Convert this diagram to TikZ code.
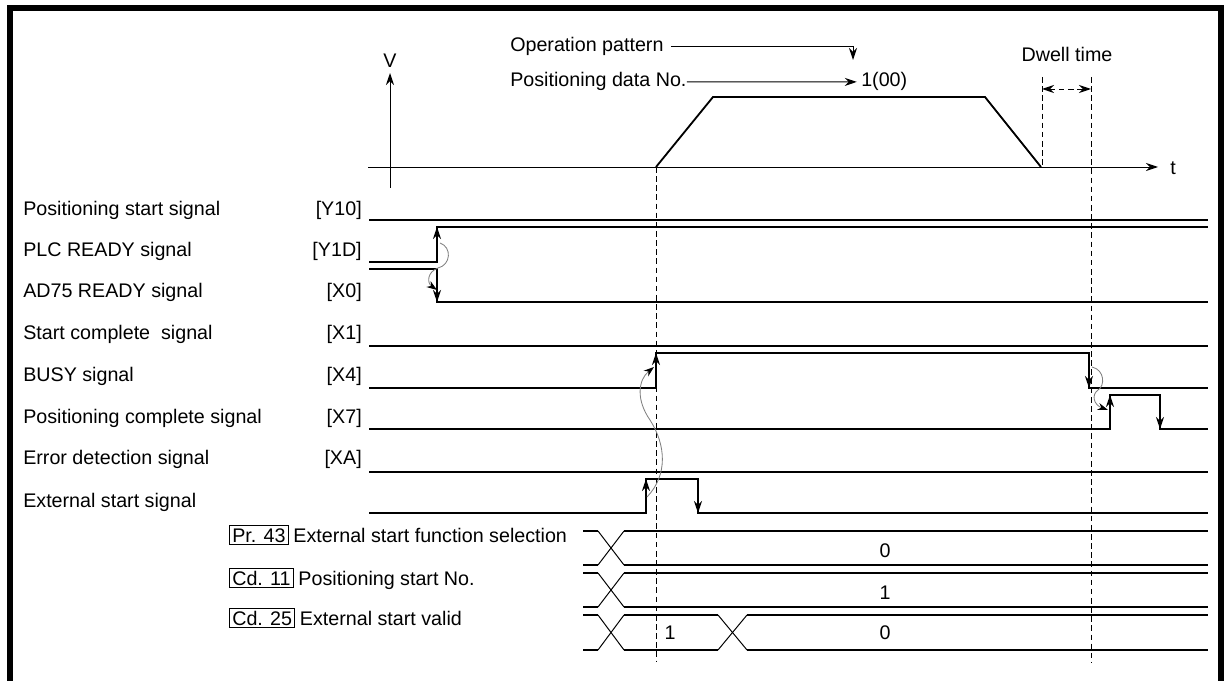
\documentclass[tikz,border=0pt]{standalone}
\usepackage{fontspec}
\setmainfont{Liberation Sans}
\usetikzlibrary{positioning,arrows.meta}

\begin{document}
\begin{tikzpicture}[
    x=0.025cm, y=-0.025cm,
    font=\fontsize{14}{16}\selectfont,
    txt/.style={anchor=base west, inner sep=0pt},
    reg/.style={anchor=base east, inner sep=0pt},
    val/.style={anchor=base, inner sep=0pt},
    sig/.style={line width=1.5pt},
    edge/.style={line width=1.5pt, -{Stealth[length=3mm, width=2mm]}},
    axis/.style={line width=0.7pt, -{Stealth[length=3mm, width=2mm]}},
    thinline/.style={line width=0.7pt},
    guide/.style={line width=0.7pt, dash pattern=on 4pt off 2.5pt},
    cause/.style={draw=gray, line width=0.6pt, -{Stealth[length=2.6mm, width=1.8mm, black]}},
    parbox/.style={draw, line width=0.7pt, anchor=base west, inner xsep=2pt, inner ysep=2pt, text height=10pt, text depth=0pt}
]
\useasboundingbox (0,0) rectangle (1224,681);
\draw[line width=3.6pt] (10,681) -- (10,8) -- (1221,8) -- (1221,681);

% velocity chart
\node[val] (vlab) at (390,68) {V};
\node[val] (tlab) at (1173,175) {t};
\coordinate (vbot) at (390,188);
\coordinate (vtop) at (390,73);
\coordinate (tleft) at (368,167);
\coordinate (tright) at (1158,167);
\draw[axis] (vbot) -- (vtop);
\draw[axis] (tleft) -- (tright);
\draw[sig, line width=1.3pt] (656,167) -- (713,97) -- (985,97) -- (1041,167);

\node[txt] (oppat) at (510,52) {Operation pattern};
\node[txt] (posdata) at (510,87) {Positioning data No.};
\node[txt] (posno) at (861,87) {1(00)};
\coordinate (patend) at (853,60);
\draw[thinline, -{Stealth[length=3mm, width=2mm]}] ([xshift=5pt]oppat.east) -| (patend);
\draw[thinline, -{Stealth[length=3mm, width=2mm]}] (posdata.east) -- ([xshift=-3pt]posno.west);

\node[val] (dwell) at (1067,62) {Dwell time};
\coordinate (dwa) at (1042,89);
\coordinate (dwb) at (1091,89);
\draw[guide] (1042,77) -- (1042,167);
\draw[guide] (1091,77) -- (1091,662);
\draw[guide] (656,167) -- (656,662);
\draw[guide, {Stealth[length=3mm, width=2mm]}-{Stealth[length=3mm, width=2mm]}] (dwa) -- (dwb);

% signal names
\node[txt] (n1) at (23,216) {Positioning start signal};
\node[txt] (n2) at (23,257) {PLC READY signal};
\node[txt] (n3) at (23,298) {AD75 READY signal};
\node[txt] (n4) at (23,340) {Start complete\ \ signal};
\node[txt] (n5) at (23,382) {BUSY signal};
\node[txt] (n6) at (23,424) {Positioning complete signal};
\node[txt] (n7) at (23,465) {Error detection signal};
\node[txt] (n8) at (23,507) {External start signal};
\node[reg] (r1) at (362,216) {[Y10]};
\node[reg] (r2) at (362,257) {[Y1D]};
\node[reg] (r3) at (362,298) {[X0]};
\node[reg] (r4) at (362,340) {[X1]};
\node[reg] (r5) at (362,382) {[X4]};
\node[reg] (r6) at (362,424) {[X7]};
\node[reg] (r7) at (362,465) {[XA]};

% signals
\draw[sig] (369,220) -- (1208,220);
\draw[sig] (369,262) -- (437,262) -- (437,227) -- (1208,227);
\draw[edge] (437,262) -- (437,227);
\draw[sig] (369,269) -- (437,269) -- (437,302) -- (1208,302);
\draw[edge] (437,269) -- (437,302);
\draw[sig] (369,346) -- (1208,346);
\draw[sig] (369,388) -- (656,388) -- (656,353) -- (1089,353) -- (1089,388) -- (1208,388);
\draw[edge] (656,388) -- (656,353);
\draw[edge] (1089,353) -- (1089,388);
\draw[sig] (369,429) -- (1110,429) -- (1110,395) -- (1160,395) -- (1160,429) -- (1208,429);
\draw[edge] (1110,429) -- (1110,395);
\draw[edge] (1160,395) -- (1160,429);
\draw[sig] (369,472) -- (1208,472);
\draw[sig] (369,513) -- (646,513) -- (646,479) -- (698,479) -- (698,513) -- (1208,513);
\draw[edge] (646,513) -- (646,479);
\draw[edge] (698,479) -- (698,513);

% cause arrows
\coordinate (plcrise) at (440,243);
\coordinate (adfall) at (437,290);
\coordinate (busyfall) at (1092,367);
\coordinate (pcrise) at (1108,410);
\coordinate (extrise) at (647,497);
\coordinate (busyrise) at (654,367);
\draw[cause] (plcrise) .. controls (452,247) and (451,265) .. (438,268) .. controls (427,272) and (427,283) .. (adfall);
\draw[cause] (busyfall) .. controls (1105,370) and (1105,386) .. (1098,390) .. controls (1091,395) and (1094,405) .. (pcrise);
\draw[cause] (extrise) .. controls (668,475) and (666,445) .. (650,420) .. controls (636,400) and (638,380) .. (busyrise);

% buffer memory rows
\node[parbox] (pr43) at (229,542) {Pr. 43\ };
\node[txt, base right=3pt of pr43] (pr43t) {External start function selection};
\node[parbox] (cd11) at (229,585) {Cd. 11};
\node[txt, base right=3pt of cd11] (cd11t) {Positioning start No.};
\node[parbox] (cd25) at (229,625) {Cd. 25};
\node[txt, base right=3pt of cd25] (cd25t) {External start valid};

\draw[sig] (583,531) -- (598,531);
\draw[sig] (583,565) -- (598,565);
\draw[thinline] (598,531) -- (624,565);
\draw[thinline] (598,565) -- (624,531);
\draw[sig] (624,531) -- (1208,531);
\draw[sig] (624,565) -- (1208,565);
\node[val] (v1) at (885,557) {0};

\draw[sig] (583,573) -- (598,573);
\draw[sig] (583,607) -- (598,607);
\draw[thinline] (598,573) -- (624,607);
\draw[thinline] (598,607) -- (624,573);
\draw[sig] (624,573) -- (1208,573);
\draw[sig] (624,607) -- (1208,607);
\node[val] (v2) at (885,599) {1};

\draw[sig] (583,615) -- (598,615);
\draw[sig] (583,650) -- (598,650);
\draw[thinline] (598,615) -- (624,650);
\draw[thinline] (598,650) -- (624,615);
\draw[sig] (624,615) -- (718,615);
\draw[sig] (624,650) -- (718,650);
\draw[thinline] (718,615) -- (747,650);
\draw[thinline] (718,650) -- (747,615);
\draw[sig] (747,615) -- (1208,615);
\draw[sig] (747,650) -- (1208,650);
\node[val] (v3) at (670,639) {1};
\node[val] (v4) at (885,639) {0};
\end{tikzpicture}
\end{document}
